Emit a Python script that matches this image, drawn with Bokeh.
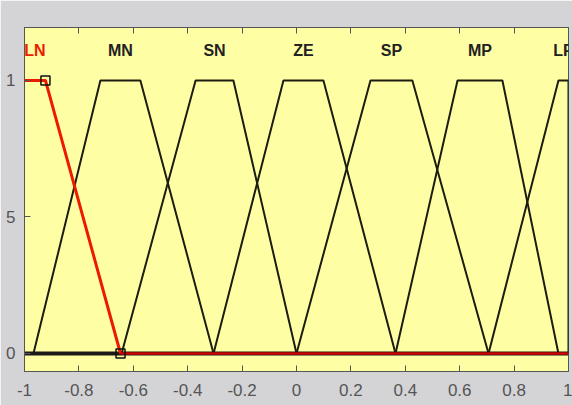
from bokeh.plotting import figure
from bokeh.models import Range1d, LinearAxis, FixedTicker
from bokeh.core.properties import value
from bokeh.embed import file_html
from bokeh.resources import INLINE

# ---- data ----
mf_names = ["LN", "MN", "SN", "ZE", "SP", "MP", "LP"]
mf_a = [-1.0, -0.967, -0.643, -0.305, 0.0, 0.364, 0.706]
mf_b = [-1.0, -0.721, -0.371, -0.048, 0.272, 0.592, 0.963]
mf_c = [-0.923, -0.574, -0.232, 0.099, 0.426, 0.757, 1.0]
mf_d = [-0.647, -0.305, 0.0, 0.364, 0.706, 0.963, 1.0]
x_ticks = [-1, -0.8, -0.6, -0.4, -0.2, 0, 0.2, 0.4, 0.6, 0.8, 1]
x_tick_labels = ["-1", "-0.8", "-0.6", "-0.4", "-0.2", "0", "0.2", "0.4", "0.6", "0.8", "1"]
y_ticks = [0, 0.5, 1]
y_tick_labels = ["0", "5", "1"]
label_y = 1.11

BG = "#d4d4d6"
FONT = "Liberation Sans"

p = figure(width=572, height=405, output_backend="svg", toolbar_location=None,
           x_range=Range1d(-1, 1), y_range=Range1d(-0.066, 1.194),
           min_border_left=24, min_border_right=4, min_border_top=27, min_border_bottom=34,
           background_fill_color="#fefea4", border_fill_color=BG,
           outline_line_color="#555555", outline_line_width=1)
p.grid.visible = False

# baseline of all trapezoids
p.line([x_ticks[0], x_ticks[-1]], [0, 0], line_color="#1a1a1a", line_width=4)

# black membership functions
for i in range(1, len(mf_names)):
    xs = [mf_a[i], mf_b[i], mf_c[i], mf_d[i]]
    ys = [0, 1, 1, 0]
    p.line(xs, ys, line_color="#1c1c10", line_width=2)

# selected (red) LN function
red = "#ee1a00"
p.line([mf_a[0], mf_c[0], mf_d[0]], [1, 1, 0], line_color=red, line_width=3)
p.line([mf_d[0], x_ticks[-1]], [0, 0], line_color="#cc0000", line_width=2.5)
p.scatter([mf_c[0], mf_d[0]], [1, 0], marker="square", size=9,
          line_color="#111111", line_width=1.5, fill_color=None)

# labels
label_x = [(mf_b[i] + mf_c[i]) / 2 for i in range(len(mf_names))]
label_x[0] = (mf_a[0] + mf_c[0]) / 2
colors = ["#ee1a00"] + ["#222222"] * (len(mf_names) - 1)
p.text(label_x, [label_y] * len(mf_names), text=mf_names, text_color=colors,
       text_font=value(FONT), text_font_style="bold", text_font_size="16px",
       text_align="center", text_baseline="middle")

# axes
for ax in (p.xaxis[0], p.yaxis[0]):
    ax.major_tick_in = 6
    ax.major_tick_out = 0
    ax.minor_tick_line_color = None
    ax.axis_line_color = "#555555"
    ax.major_tick_line_color = "#555555"
    ax.major_label_text_font = FONT
    ax.major_label_text_font_size = "17px"
    ax.major_label_text_color = "#555555"
    ax.axis_label = None

p.xaxis.ticker = FixedTicker(ticks=x_ticks)
p.xaxis.major_label_overrides = {t: l for t, l in zip(x_ticks, x_tick_labels)}
p.xaxis.major_label_standoff = 12
p.yaxis.ticker = FixedTicker(ticks=y_ticks)
p.yaxis.major_label_overrides = {t: l for t, l in zip(y_ticks, y_tick_labels)}
p.yaxis.major_label_standoff = 9

top = LinearAxis(ticker=FixedTicker(ticks=x_ticks), major_tick_in=6, major_tick_out=0,
                 minor_tick_line_color=None, major_label_text_font_size="8px",
                 major_label_text_color=None, axis_label=None,
                 axis_line_color="#555555", major_tick_line_color="#555555")
p.add_layout(top, "above")

open("out.html", "w").write(file_html(p, INLINE))
